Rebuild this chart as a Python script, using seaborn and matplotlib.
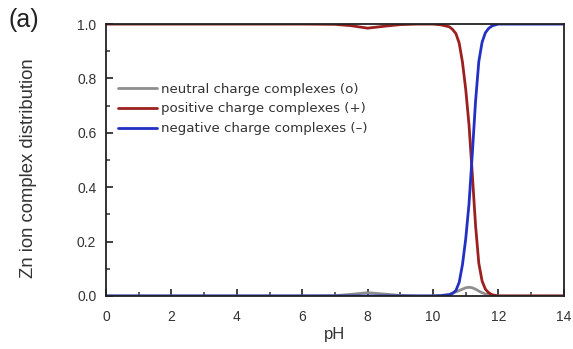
import matplotlib
matplotlib.use("Agg")
import matplotlib.pyplot as plt
import seaborn as sns
import pandas as pd
from matplotlib.ticker import MultipleLocator

ph = [0, 1, 2, 3, 4, 5, 6, 7, 7.5, 8, 8.5, 9, 9.5, 10, 10.25, 10.5, 10.6, 10.7, 10.8, 10.9,
      11.0, 11.1, 11.2, 11.3, 11.4, 11.5, 11.6, 11.7, 11.8, 11.9, 12, 12.5, 13, 14]
neutral = [0, 0, 0, 0, 0, 0, 0, 0.001, 0.006, 0.012, 0.007, 0.002, 0.0, 0.0, 0.002, 0.006, 0.01, 0.015, 0.02, 0.025,
           0.03, 0.032, 0.03, 0.025, 0.018, 0.012, 0.007, 0.004, 0.002, 0.001, 0, 0, 0, 0]
positive = [1, 1, 1, 1, 1, 1, 1, 0.999, 0.994, 0.985, 0.992, 0.998, 1.0, 1.0, 0.997, 0.99, 0.98, 0.965, 0.93, 0.86,
            0.76, 0.63, 0.45, 0.26, 0.12, 0.055, 0.025, 0.012, 0.005, 0.002, 0, 0, 0, 0]
negative = [0, 0, 0, 0, 0, 0, 0, 0, 0, 0, 0, 0, 0, 0, 0.001, 0.004, 0.01, 0.02, 0.05, 0.115,
            0.21, 0.338, 0.52, 0.715, 0.862, 0.933, 0.968, 0.984, 0.993, 0.997, 1, 1, 1, 1]

labels = ["neutral charge complexes (o)", "positive charge complexes (+)", "negative charge complexes (\u2013)"]
colors = ["#8e8e8e", "#9c2020", "#2330c4"]

df = pd.concat([
    pd.DataFrame({"pH": ph, "value": neutral, "series": labels[0]}),
    pd.DataFrame({"pH": ph, "value": positive, "series": labels[1]}),
    pd.DataFrame({"pH": ph, "value": negative, "series": labels[2]}),
])

sns.set_style("ticks")
plt.rcParams["font.family"] = ["Liberation Sans", "DejaVu Sans"]

fig = plt.figure(figsize=(5.73, 3.49), dpi=100)
ax = fig.add_axes([0.185, 0.152, 0.799, 0.779])

sns.lineplot(data=df, x="pH", y="value", hue="series", palette=dict(zip(labels, colors)),
             hue_order=labels, linewidth=2.0, ax=ax, sort=True)

ax.set_xlim(0, 14)
ax.set_ylim(0, 1.0)
ax.xaxis.set_major_locator(MultipleLocator(2))
ax.xaxis.set_minor_locator(MultipleLocator(1))
ax.yaxis.set_major_locator(MultipleLocator(0.2))
ax.yaxis.set_minor_locator(MultipleLocator(0.1))
ax.set_yticklabels([f"{v:.1f}" for v in ax.get_yticks()])
ax.tick_params(which="major", direction="in", length=5, width=1.3, labelsize=10, colors="#333333")
ax.tick_params(axis="y", which="major", pad=7)
ax.tick_params(axis="x", which="major", pad=10)
ax.tick_params(which="minor", direction="in", length=3, width=1.1, colors="#333333")
for s in ax.spines.values():
    s.set_linewidth(1.3)
    s.set_color("#222222")
    s.set_visible(True)

ax.set_xlabel("pH", fontsize=12, color="#333333", labelpad=2)
ax.set_ylabel("Zn ion complex distribution", fontsize=13.3, color="#333333")
ax.yaxis.set_label_coords(-0.150, 0.47)

leg = ax.legend(loc="upper left", bbox_to_anchor=(0.026, 0.785), frameon=False,
                prop={"family": "DejaVu Sans", "size": 9.6},
                handlelength=2.9, handletextpad=0.3, labelspacing=0.52, borderaxespad=0, borderpad=0)
for t in leg.get_texts():
    t.set_color("#333333")

fig.text(0.015, 0.922, "(a)", fontsize=18, color="#222222", va="baseline")

fig.savefig("out.png", dpi=100)
